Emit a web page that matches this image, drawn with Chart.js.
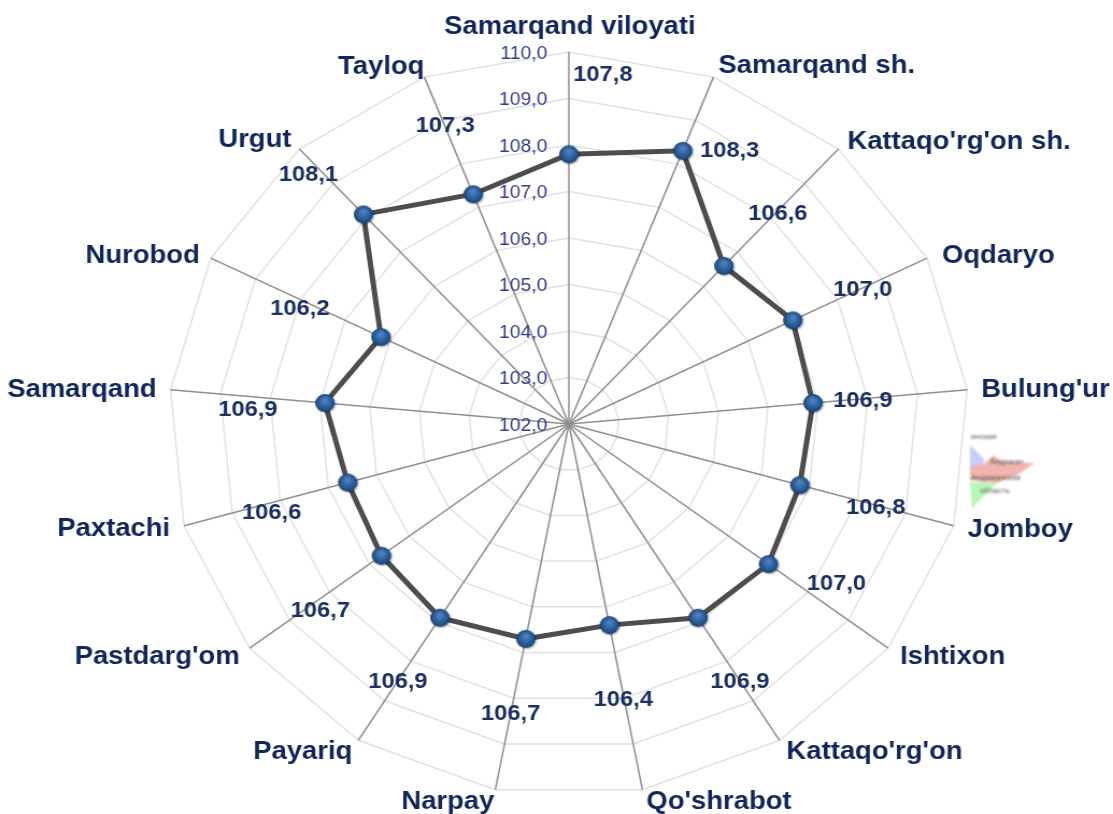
<!DOCTYPE html>
<html>
<head>
<meta charset="utf-8">
<title>Samarqand viloyati</title>
<style>
    html, body { margin: 0; padding: 0; background: #fff; overflow: hidden; }
    #wrap { position: absolute; left: 0; top: 0; width: 1035px; height: 814px; transform-origin: 0 0; transform: scaleX(1.0754); }
    #map { position: absolute; left: 960px; top: 420px; filter: blur(0.8px); }
</style>
<script src="https://cdn.jsdelivr.net/npm/chart.js@4/dist/chart.umd.min.js"></script>
</head>
<body>
<div id="wrap"><canvas id="radar" width="1035" height="814"></canvas></div>

<!-- leftover bit of a map that sits next to the chart in the original -->
<svg id="map" width="90" height="90" font-family="Liberation Sans" font-size="8" fill="#555">
    <polygon points="10,25 25,40 18,48 10,48" fill="#c9cdf5"/>
    <polygon points="10,47 25,43 33,35 43,42 75,43 57,55 37,63 10,60" fill="#f0b5ae"/>
    <polygon points="10,62 37,63 20,80 12,89" fill="#b9f5b5"/>
    <text x="11" y="19">инская</text>
    <text x="30" y="44">Андижан</text>
    <text x="11" y="60">Андижанская</text>
    <text x="20" y="73">область</text>
</svg>

<script>
const categories = ["Samarqand viloyati", "Samarqand sh.", "Kattaqo'rg'on sh.", "Oqdaryo", "Bulung'ur", "Jomboy",
    "Ishtixon", "Kattaqo'rg'on", "Qo'shrabot", "Narpay", "Payariq", "Pastdarg'om", "Paxtachi", "Samarqand",
    "Nurobod", "Urgut", "Tayloq"];
const values = [107.8, 108.3, 106.6, 107.0, 106.9, 106.8, 107.0, 106.9, 106.4, 106.7, 106.9, 106.7, 106.6, 106.9,
    106.2, 108.1, 107.3];
const tickMin = 102;
const tickMax = 110;
const tickStep = 1;

// hand placement of the texts, in screen px from the spoke end / from the point
const stretch = 1.0754;
const nameOffsets = [[1, -25], [5, -11], [9, -7], [15, -2], [14, 0], [14, 4], [12, 9], [7, 12], [4, 12], [-1, 12],
    [-6, 12], [-10, 9], [-14, 3], [-14, 0], [-11, -2], [-8, -9], [0, -10]];
const valueOffsets = [[34, -79], [47, 0], [54, -52], [70, -30], [50, -2], [76, 23], [68, 20], [42, 64], [14, 75],
    [-15, 75], [-42, 64], [-61, 55], [-76, 30], [-77, 7], [-81, -28], [-55, -39], [-28, -68]];

function fmt(v) {
    return Number(v).toFixed(1).replace('.', ',');
}

// glossy blue ball used as the point marker
function makeBall() {
    const c = document.createElement('canvas');
    c.width = 24;
    c.height = 24;
    const g = c.getContext('2d');
    g.shadowColor = 'rgba(0,0,0,0.4)';
    g.shadowBlur = 2;
    g.shadowOffsetX = 1;
    g.shadowOffsetY = 1;
    const grad = g.createRadialGradient(12, 9, 1, 12, 12, 9.5);
    grad.addColorStop(0, '#4f82bd');
    grad.addColorStop(0.6, '#2a5c9a');
    grad.addColorStop(1, '#17406f');
    g.fillStyle = grad;
    g.beginPath();
    g.arc(12, 12, 9, 0, Math.PI * 2);
    g.fill();
    return c;
}

const textPlugin = {
    id: 'textPlugin',
    afterDatasetsDraw(chart) {
        const scale = chart.scales.r;
        const ctx = chart.ctx;
        const points = chart.getDatasetMeta(0).data;
        ctx.save();
        ctx.textBaseline = 'middle';

        // ticks sit left of the first spoke
        ctx.font = '18px "Liberation Sans"';
        ctx.fillStyle = '#343c90';
        ctx.textAlign = 'right';
        scale.ticks.forEach(function(t) {
            const y = scale.yCenter - scale.getDistanceFromCenterForValue(t.value) + 2;
            ctx.fillText(fmt(t.value), scale.xCenter - 20, y);
        });

        // names round the outside
        ctx.font = 'bold 25.5px "Liberation Sans"';
        ctx.fillStyle = '#10265c';
        categories.forEach(function(name, i) {
            const p = scale.getPointPosition(i, scale.drawingArea);
            const off = nameOffsets[i];
            ctx.textAlign = i === 0 ? 'center' : (i <= 8 ? 'left' : 'right');
            ctx.fillText(name, p.x + off[0] / stretch, p.y + off[1]);
        });

        // value next to each point
        ctx.font = 'bold 22px "Liberation Sans"';
        ctx.fillStyle = '#1a3064';
        ctx.textAlign = 'center';
        values.forEach(function(v, i) {
            const off = valueOffsets[i];
            ctx.fillText(fmt(v), points[i].x + off[0] / stretch, points[i].y + off[1]);
        });
        ctx.restore();
    }
};

new Chart(document.getElementById('radar'), {
    type: 'radar',
    data: {
        labels: categories,
        datasets: [{
            data: values,
            fill: false,
            tension: 0,
            borderColor: '#4d4d4d',
            borderWidth: 5,
            pointStyle: makeBall(),
            pointRadius: 10
        }]
    },
    options: {
        responsive: false,
        animation: false,
        layout: { padding: { left: 157, right: 134, top: 52, bottom: 18 } },
        plugins: { legend: { display: false }, tooltip: { enabled: false } },
        scales: {
            r: {
                min: tickMin,
                max: tickMax,
                ticks: { stepSize: tickStep, display: false },
                pointLabels: { display: false },
                grid: { color: '#e2e2e2', lineWidth: 1.5 },
                angleLines: { color: '#8f8f8f', lineWidth: 1.5 }
            }
        }
    },
    plugins: [textPlugin]
});
</script>
</body>
</html>
